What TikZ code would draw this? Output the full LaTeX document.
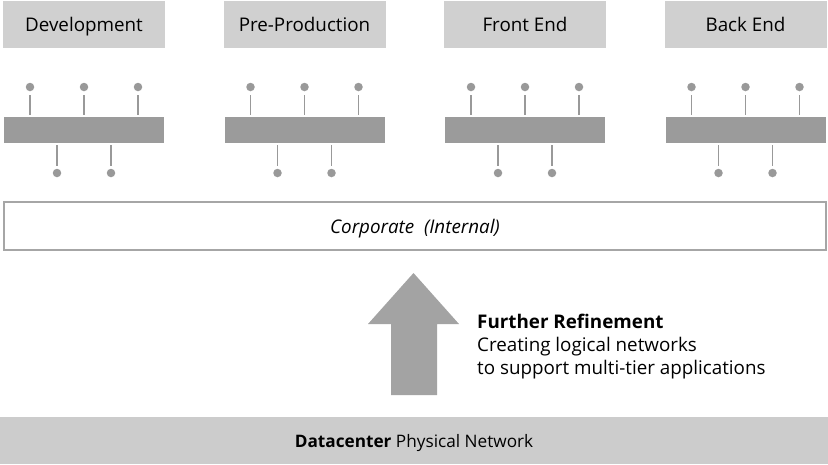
\documentclass[tikz,border=0pt]{standalone}
\usepackage{fontspec}
\setmainfont{Open Sans}
\definecolor{tabgray}{HTML}{D0D0D0}
\definecolor{bargray}{HTML}{9B9B9B}
\definecolor{pingray}{HTML}{999999}
\definecolor{basegray}{HTML}{CCCCCC}
\definecolor{edgegray}{HTML}{A6A6A6}
\definecolor{arrowgray}{HTML}{A3A3A3}
\begin{document}
\begin{tikzpicture}[x=1pt,y=-1pt,
  txt/.style={font=\fontsize{18.8}{23}\selectfont,text=black},
  boxtxt/.style={txt,text height=15pt,text depth=1pt,inner sep=0pt},
  tab/.style={boxtxt,fill=tabgray,minimum width=162pt,minimum height=47pt},
  bar/.style={fill=bargray,minimum width=160pt,minimum height=26pt,inner sep=0pt},
  pin/.style={circle,fill=pingray,minimum size=8.5pt,inner sep=0pt},
  pinline/.style={draw=pingray,line width=1.8pt},
  corp/.style={boxtxt,draw=edgegray,line width=1.5pt,fill=white,minimum width=822pt,minimum height=48pt},
  base/.style={boxtxt,font=\fontsize{17.2}{20}\selectfont,fill=basegray,minimum width=828pt,minimum height=47pt}]
\useasboundingbox (0,0) rectangle (828,464);
% the four network segments
\foreach \name [count=\i from 0] in {Development,Pre-Production,Front End,Back End}{
  \pgfmathsetmacro{\cx}{84+220.5*\i}
  \node[tab] (tab\i) at (\cx,24) {\name};
  \node[bar] (bar\i) at (\cx,130) {};
  \foreach \dx [count=\j] in {-54,0,54}{
    \node[pin] (up\i\j) at (\cx+\dx,87) {};
    \draw[pinline,shorten <=4pt,shorten >=2pt] (up\i\j) -- (up\i\j |- bar\i.north);
  }
  \foreach \dx [count=\j] in {-27,27}{
    \node[pin] (down\i\j) at (\cx+\dx,173) {};
    \draw[pinline,shorten <=3pt,shorten >=2pt] (down\i\j) -- (down\i\j |- bar\i.south);
  }
}
\node[corp] (corp) at (415,226) {\itshape Corporate\ \ (Internal)};
% refinement arrow
\fill[arrowgray] (391,395) -- (391,324) -- (368,324) -- (413.5,273) -- (459,324)
  -- (437,324) -- (437,395) -- cycle;
\node[txt,anchor=north west,align=left,inner sep=0pt] (refine) at (477,314)
  {\textbf{Further Refinement}\\Creating logical networks\\to support multi-tier applications};
\node[base] (dc) at (414,440) {\textbf{Datacenter} Physical Network};
\end{tikzpicture}
\end{document}
